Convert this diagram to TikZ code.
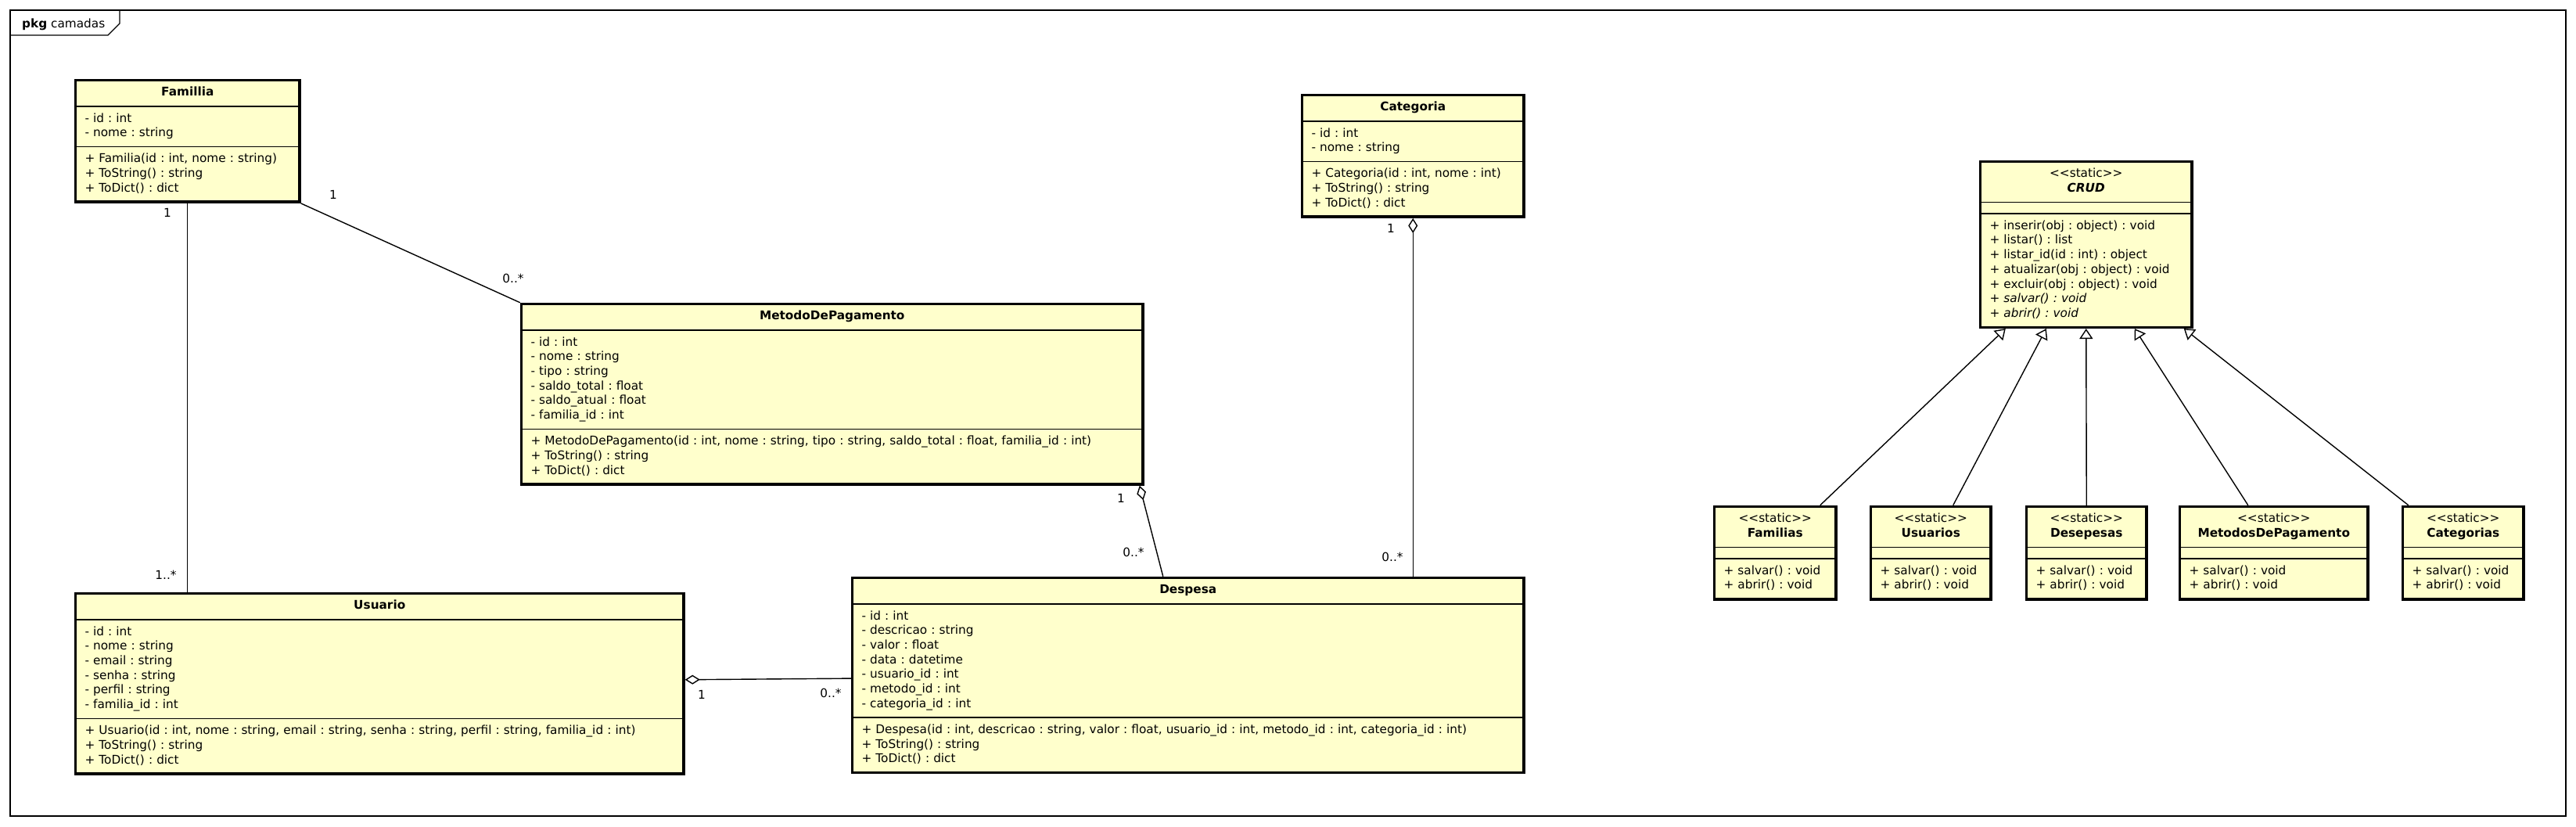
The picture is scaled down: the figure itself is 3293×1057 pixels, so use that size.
\documentclass[tikz,border=0pt]{standalone}
\usepackage{fontspec}
\newfontfamily\umlfont{DejaVu Sans}
\usetikzlibrary{arrows.meta,shapes.multipart}
\definecolor{classfill}{RGB}{255,255,204}
\frenchspacing

\begin{document}
\begin{tikzpicture}[x=1pt,y=-1pt,font=\umlfont\fontsize{15.3}{18.7}\selectfont]

	\tikzstyle class box=[rectangle split, rectangle split parts=3, rectangle split draw splits=false, rectangle split empty part height=0pt, rectangle split empty part depth=0pt, draw, line width=3.5pt, fill=classfill, anchor=north west, inner xsep=12pt, inner ysep=5.5pt, align=left];
	\tikzstyle split lines=[line width=1.6pt];
	\tikzstyle assoc lines=[line width=1.4pt];
	\tikzstyle aggregation lines=[line width=1.4pt, {Diamond[open,length=19pt,width=12pt]}-];
	\tikzstyle generalization lines=[line width=1.4pt, -{Triangle[open,length=13pt,width=17pt]}];
	\tikzstyle mult labels=[inner sep=0pt];
	\tikzstyle frame lines=[line width=1.4pt];

	\useasboundingbox (0,0) rectangle (3293,1057);

	\draw[frame lines] (13,13) rectangle (3280,1043);
	\draw[frame lines] (13,45) -- (138,45) -- (153,30) -- (153,13);
	\node[anchor=base west, inner sep=0pt] (pkg) at (28,36) {\textbf{pkg} camadas};

	\node[class box, text width=262.5pt] (familia) at (94.75,100.75)
		{\centering\strut\textbf{Famillia}\strut\endgraf
		\nodepart{two}\strut- id : int\\- nome : string\strut
		\nodepart{three}\strut+ Familia(id : int, nome : string)\\+ ToString() : string\\+ ToDict() : dict\strut};

	\node[class box, text width=770.5pt] (metodo) at (664.75,386.75)
		{\centering\strut\textbf{MetodoDePagamento}\strut\endgraf
		\nodepart{two}\strut- id : int\\- nome : string\\- tipo : string\\- saldo\_total : float\\- saldo\_atual : float\\- familia\_id : int\strut
		\nodepart{three}\strut+ MetodoDePagamento(id : int, nome : string, tipo : string, saldo\_total : float, familia\_id : int)\\+ ToString() : string\\+ ToDict() : dict\strut};

	\node[class box, text width=259.5pt] (categoria) at (1662.75,119.75)
		{\centering\strut\textbf{Categoria}\strut\endgraf
		\nodepart{two}\strut- id : int\\- nome : string\strut
		\nodepart{three}\strut+ Categoria(id : int, nome : int)\\+ ToString() : string\\+ ToDict() : dict\strut};

	\node[class box, text width=753.5pt] (usuario) at (94.75,756.75)
		{\centering\strut\textbf{Usuario}\strut\endgraf
		\nodepart{two}\strut- id : int\\- nome : string\\- email : string\\- senha : string\\- perfil : string\\- familia\_id : int\strut
		\nodepart{three}\strut+ Usuario(id : int, nome : string, email : string, senha : string, perfil : string, familia\_id : int)\\+ ToString() : string\\+ ToDict() : dict\strut};

	\node[class box, text width=834.5pt] (despesa) at (1087.75,736.75)
		{\centering\strut\textbf{Despesa}\strut\endgraf
		\nodepart{two}\strut- id : int\\- descricao : string\\- valor : float\\- data : datetime\\- usuario\_id : int\\- metodo\_id : int\\- categoria\_id : int\strut
		\nodepart{three}\strut+ Despesa(id : int, descricao : string, valor : float, usuario\_id : int, metodo\_id : int, categoria\_id : int)\\+ ToString() : string\\+ ToDict() : dict\strut};

	\node[class box, text width=246.5pt] (crud) at (2529.75,204.75)
		{\centering\strut<<static>>\\\textbf{\textit{CRUD}}\strut\endgraf
		\nodepart{two}
		\nodepart{three}\strut+ inserir(obj : object) : void\\+ listar() : list\\+ listar\_id(id : int) : object\\+ atualizar(obj : object) : void\\+ excluir(obj : object) : void\\+ \textit{salvar() : void}\\+ \textit{abrir() : void}\strut};

	\foreach \x/\tw/\cls/\ctitle in {2189.75/131.5pt/familias/Familias, 2389.75/129.5pt/usuarios/Usuarios, 2588.75/129.5pt/desepesas/Desepesas, 2784.75/216.5pt/metodosdepagamento/MetodosDePagamento, 3069.75/130.5pt/categorias/Categorias}
		\node[class box, text width=\tw] (\cls) at (\x,645.75)
			{\centering\strut<<static>>\\\textbf{\ctitle}\strut\endgraf
			\nodepart{two}
			\nodepart{three}\strut+ salvar() : void\\+ abrir() : void\strut};

	\foreach \n in {familia,metodo,categoria,usuario,despesa,crud,familias,usuarios,desepesas,metodosdepagamento,categorias}
	{
		\draw[split lines] (\n.text split west) -- (\n.text split east);
		\draw[split lines] (\n.two split west) -- (\n.two split east);
	}

	\draw[assoc lines] (familia.south) -- (familia.south |- usuario.north);
	\draw[assoc lines] (familia.south east) -- (metodo.north west);
	\draw[aggregation lines] ([xshift=-6pt]metodo.south east) -- ([xshift=-32pt]despesa.north);
	\draw[aggregation lines] (categoria.south) -- (categoria.south |- despesa.north);
	\draw[aggregation lines] ([yshift=5pt]usuario.east) -- ([yshift=-4pt]despesa.west);

	\foreach \cls/\from/\to in {familias/57.5pt/-103pt, usuarios/28.5pt/-51pt, desepesas/0pt/0pt, metodosdepagamento/-33pt/62pt, categorias/-70pt/125pt}
		\draw[generalization lines] ([xshift=\from]\cls.north) -- ([xshift=\to]crud.south);

	\node[mult labels] (famUsu1) at (214,272) {1};
	\node[mult labels] (famUsu2) at (212,735) {1..*};
	\node[mult labels] (famMet1) at (426,249) {1};
	\node[mult labels] (famMet2) at (656,356) {0..*};
	\node[mult labels] (metDes1) at (1433,637) {1};
	\node[mult labels] (metDes2) at (1449,706) {0..*};
	\node[mult labels] (catDes1) at (1778,292) {1};
	\node[mult labels] (catDes2) at (1780,712) {0..*};
	\node[mult labels] (usuDes1) at (897,888) {1};
	\node[mult labels] (usuDes2) at (1062,886) {0..*};

\end{tikzpicture}
\end{document}
